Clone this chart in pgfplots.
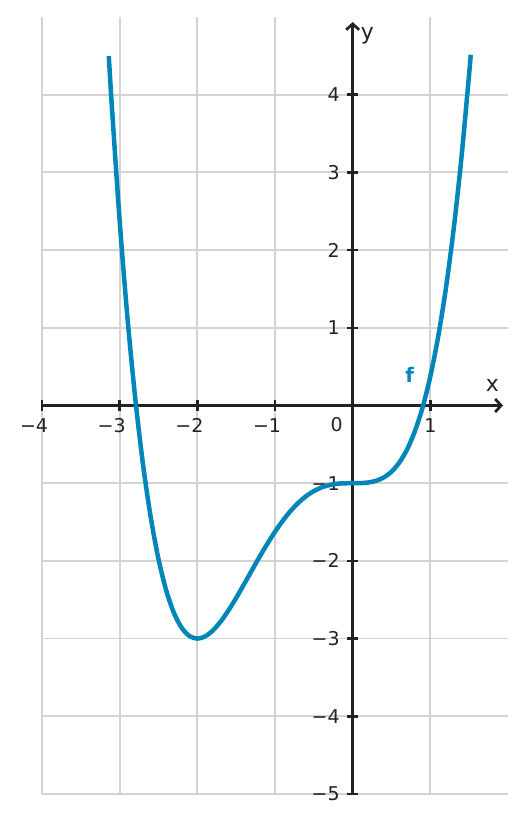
\documentclass[border=0pt]{standalone}
\usepackage{fontspec}
\setmainfont{DejaVu Sans}
\usepackage{pgfplots}
\pgfplotsset{compat=1.18}
\usetikzlibrary{arrows.meta}
\definecolor{curve}{HTML}{0086B8}
\definecolor{axc}{HTML}{222222}
\definecolor{gridc}{HTML}{D3D3D3}
\newcommand{\lbl}{\fontsize{19bp}{21bp}\selectfont}
\newcommand{\axlbl}{\fontsize{22bp}{24bp}\selectfont}
\begin{document}
\begin{tikzpicture}
\begin{axis}[
  name=ax,
  scale only axis,
  width=466bp, height=777bp,
  xmin=-4, xmax=2, ymin=-5, ymax=5,
  axis lines=middle,
  axis line style={line width=2.7bp, color=axc, shorten >=5bp,
    -{Straight Barb[length=6bp,width=13bp,line width=2.7bp]}},
  xtick={-4,-3,-2,-1,1},
  xticklabels={\llap{−}4,\llap{−}3,\llap{−}2,\llap{−}1,1},
  ytick={-5,-4,-3,-2,-1,1,2,3,4},
  yticklabels={−5,−4,−3,−2,−1,1,2,3,4},
  major tick length=11bp,
  tick align=center,
  tick style={line width=2.5bp, color=axc},
  ticklabel style={font=\lbl, text=axc},
  xticklabel style={yshift=-4bp},
  yticklabel style={xshift=-4bp},
  grid=major,
  major grid style={line width=1.8bp, color=gridc},
  clip=false,
]
\addplot[curve, line width=4.5bp, smooth] coordinates {
(-3.14,4.496)(-3.1,3.841)(-3.0,2.375)(-2.9,1.134)(-2.8,0.098)(-2.7,-0.754)
(-2.6,-1.439)(-2.5,-1.977)(-2.4,-2.382)(-2.3,-2.673)(-2.2,-2.863)(-2.1,-2.968)
(-2.0,-3.0)(-1.9,-2.972)(-1.8,-2.895)(-1.7,-2.781)(-1.6,-2.638)(-1.5,-2.477)
(-1.4,-2.303)(-1.3,-2.126)(-1.2,-1.950)(-1.1,-1.782)(-1.0,-1.625)(-0.9,-1.483)
(-0.8,-1.358)(-0.7,-1.253)(-0.6,-1.167)(-0.5,-1.102)(-0.4,-1.054)(-0.3,-1.024)
(-0.2,-1.007)(-0.1,-1.001)(0,-1)(0.1,-0.999)(0.2,-0.991)(0.3,-0.970)
(0.4,-0.926)(0.5,-0.852)(0.6,-0.735)(0.7,-0.567)(0.8,-0.334)(0.9,-0.025)
(1.0,0.375)(1.1,0.880)(1.2,1.506)(1.3,2.268)(1.4,3.185)(1.5,4.273)(1.52,4.514)
};
\node[font=\lbl, text=axc] at (axis cs:-0.206,-0.244) {0};
\node[font=\axlbl, text=axc] at (axis cs:1.80,0.26) {x};
\node[font=\axlbl, text=axc] at (axis cs:0.19,4.76) {y};
\node[font=\fontsize{20bp}{22bp}\selectfont\bfseries, text=curve] at (axis cs:0.735,0.40) {f};
\end{axis}
\pgfresetboundingbox
\path ([xshift=-42bp,yshift=-29bp]ax.south west) rectangle ([xshift=18bp,yshift=17bp]ax.north east);
\end{tikzpicture}
\end{document}
